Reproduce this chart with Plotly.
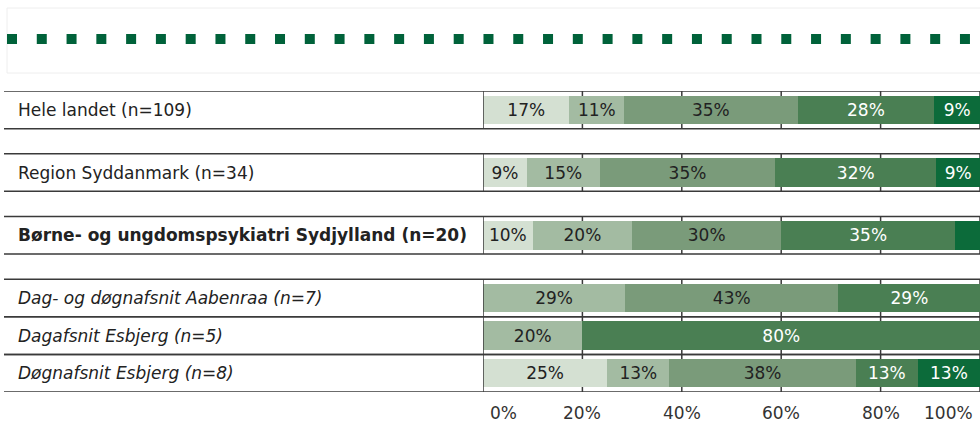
import plotly.graph_objects as go

# ---- data ----
categories = [
    "Hele landet (n=109)",
    "Region Syddanmark (n=34)",
    "Børne- og ungdomspsykiatri Sydjylland (n=20)",
    "Dag- og døgnafsnit Aabenraa (n=7)",
    "Dagafsnit Esbjerg (n=5)",
    "Døgnafsnit Esbjerg (n=8)",
]
label_styles = ["normal", "normal", "bold", "italic", "italic", "italic"]
series_names = ["Svar 1", "Svar 2", "Svar 3", "Svar 4", "Svar 5"]
s1 = [17.4, 8.8, 10.0, 0.0, 0.0, 25.0]
s2 = [11.0, 14.7, 20.0, 28.6, 20.0, 12.5]
s3 = [34.9, 35.3, 30.0, 42.9, 0.0, 37.5]
s4 = [27.5, 32.4, 35.0, 28.6, 80.0, 12.5]
s5 = [9.2, 8.8, 5.0, 0.0, 0.0, 12.5]
series_values = [s1, s2, s3, s4, s5]
tick_vals = [0, 20, 40, 60, 80, 100]
tick_labels = ["0%", "20%", "40%", "60%", "80%", "100%"]

# ---- style ----
colors = ["#d4e0d2", "#a3bba2", "#7a9b7a", "#4a7f53", "#0c6b3a"]
text_colors = ["#222222", "#222222", "#222222", "#ffffff", "#ffffff"]
FONT = "DejaVu Sans"
W, H = 980, 426
# gap (in row units) placed before each row (top to bottom)
gaps_before = [0, 2 / 3, 2 / 3, 2 / 3, 0, 0]

# compute row centers (top row highest)
n = len(categories)
pos = []
acc = 0.0
for i in range(n):
    acc += gaps_before[i]
    pos.append(acc + i)
top = pos[-1]
row_y = [top - p for p in pos]

fig = go.Figure()
for k, (name, vals) in enumerate(zip(series_names, series_values)):
    texts = [f"{int(v + 0.5)}%" if v >= 6 else "" for v in vals]
    fig.add_trace(go.Bar(
        y=row_y, x=vals, name=name, orientation="h",
        marker=dict(color=colors[k], line=dict(width=0)),
        width=0.76,
        text=texts, textposition="inside", insidetextanchor="middle",
        textangle=0,
        textfont=dict(family=FONT, size=17, color=text_colors[k]),
        hoverinfo="skip",
    ))

shapes = []
line_col = "#3a3a3a"
for y in row_y:
    # row borders full width
    for yy in (y - 0.5, y + 0.5):
        shapes.append(dict(type="line", xref="paper", yref="y",
                           x0=4 / W, x1=1.0, y0=yy, y1=yy,
                           line=dict(color=line_col, width=1.5), layer="above"))
    # gridline segments (below bars)
    for t in tick_vals[1:]:
        shapes.append(dict(type="line", xref="x", yref="y", x0=t, x1=t,
                           y0=y - 0.5, y1=y + 0.5,
                           line=dict(color=line_col, width=1.5), layer="below"))
    # left axis segment
    shapes.append(dict(type="line", xref="x", yref="y", x0=0, x1=0,
                       y0=y - 0.5, y1=y + 0.5,
                       line=dict(color=line_col, width=1.5), layer="above"))

# top legend-like box with dotted squares
shapes.append(dict(type="rect", xref="paper", yref="paper",
                   x0=7 / W, x1=1.02, y0=(H - 73) / H, y1=(H - 8) / H,
                   line=dict(color="#eeeeee", width=1), fillcolor="rgba(0,0,0,0)"))
shapes.append(dict(type="line", xref="paper", yref="paper",
                   x0=7 / W, x1=970 / W, y0=(H - 39) / H, y1=(H - 39) / H,
                   line=dict(color="#00623a", width=10, dash="10px,19.78px")))

annotations = []
for cat, style, y in zip(categories, label_styles, row_y):
    txt = cat
    if style == "bold":
        txt = f"<b>{cat}</b>"
    elif style == "italic":
        txt = f"<i>{cat}</i>"
    annotations.append(dict(text=txt, xref="paper", yref="y", x=16 / W, y=y,
                            xanchor="left", yanchor="middle", showarrow=False,
                            font=dict(family=FONT, size=17, color="#222222")))
for t, lab in zip(tick_vals, tick_labels):
    if t == tick_vals[0]:
        xa, xs = "left", 5
    elif t == tick_vals[-1]:
        xa, xs = "right", -5
    else:
        xa, xs = "center", 0
    annotations.append(dict(text=lab, xref="x", yref="paper", x=t, y=(H - 413) / H,
                            xanchor=xa, xshift=xs, yanchor="middle", showarrow=False,
                            font=dict(family=FONT, size=17, color="#333333")))

fig.update_layout(
    width=W, height=H,
    margin=dict(l=0, r=0, t=0, b=0),
    barmode="stack",
    showlegend=False,
    paper_bgcolor="white", plot_bgcolor="white",
    xaxis=dict(domain=[483 / W, 1.0], range=[0, 100], showgrid=False,
               zeroline=False, showticklabels=False, ticks="", fixedrange=True),
    yaxis=dict(domain=[(H - 392) / H, (H - 91) / H], range=[-0.5, top + 0.5],
               showgrid=False, zeroline=False, showticklabels=False, ticks="",
               fixedrange=True),
    shapes=shapes,
    annotations=annotations,
    uniformtext=dict(minsize=17, mode="hide"),
    font=dict(family=FONT),
)

fig.write_html("out.html", config={"displayModeBar": False})
